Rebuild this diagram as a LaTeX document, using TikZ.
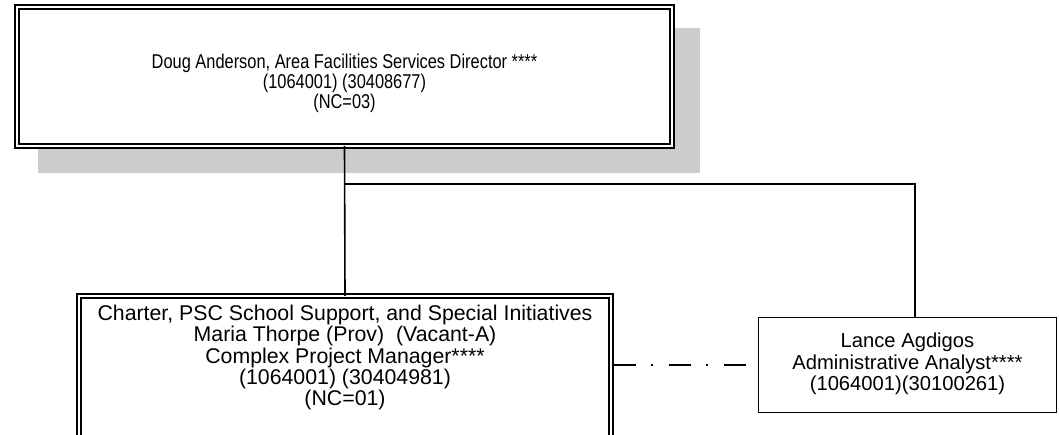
\documentclass[tikz,border=0pt]{standalone}
\usepackage{fontspec}
\setmainfont{Liberation Sans}
\newfontfamily\topfont[FakeStretch=0.82]{Liberation Sans}
\definecolor{shadowgray}{RGB}{204,204,204}
\begin{document}
\begin{tikzpicture}[x=1pt,y=-1pt,
  dblbox/.style={draw=black, line width=1.8pt, double=white, double distance=2.4pt, fill=white, inner sep=0pt, outer sep=0pt},
  sglbox/.style={draw=black, line width=1.8pt, fill=white, inner sep=0pt, outer sep=0pt},
  toptxt/.style={align=center, inner sep=0pt, font=\topfont\fontsize{20}{20.2}\selectfont},
  lowtxt/.style={align=center, inner sep=0pt, font=\fontsize{21.3}{21.3}\selectfont},
  lancetxt/.style={align=center, inner sep=0pt, font=\fontsize{20.2}{21.3}\selectfont},
  conn/.style={draw=black, line width=1.6pt},
  dotted link/.style={draw=black, line width=2.3pt, dash pattern=on 22pt off 15pt on 2pt off 16pt}]
\useasboundingbox (0,0) rectangle (1059,435);
\clip (0,0) rectangle (1059,435);
% shadow
\fill[shadowgray] (38,28) rectangle (700,173);
% boxes
\node[dblbox, minimum width=655pt, minimum height=139pt] (top) at (344.5,76.5) {};
\node[dblbox, minimum width=532pt, minimum height=160pt, anchor=north] (cps) at (345,296) {};
\node[sglbox, minimum width=298pt, minimum height=95pt] (lance) at (907.5,365) {};
% texts
\node[toptxt] (toptext) at (344.5,83.5) {Doug Anderson, Area Facilities Services Director ****\\(1064001) (30408677)\\(NC=03)};
\node[lowtxt] (cpstext) at (345,357.5) {Charter, PSC School Support, and Special Initiatives\\Maria Thorpe (Prov)\ \ (Vacant-A)\\Complex Project Manager****\\(1064001) (30404981)\\(NC=01)};
\node[lancetxt] (lancetext) at (907.5,364) {Lance Agdigos\\Administrative Analyst****\\(1064001)(30100261)};
% connectors
\coordinate (j) at (345,184);
\draw[conn] (top.south) -- (cps.north);
\draw[conn] (j) -| ([xshift=7.5pt]lance.north);
\draw[dotted link] ([xshift=3pt]cps.east |- lance.west) -- ([xshift=-0.9pt]lance.west);
\end{tikzpicture}
\end{document}
